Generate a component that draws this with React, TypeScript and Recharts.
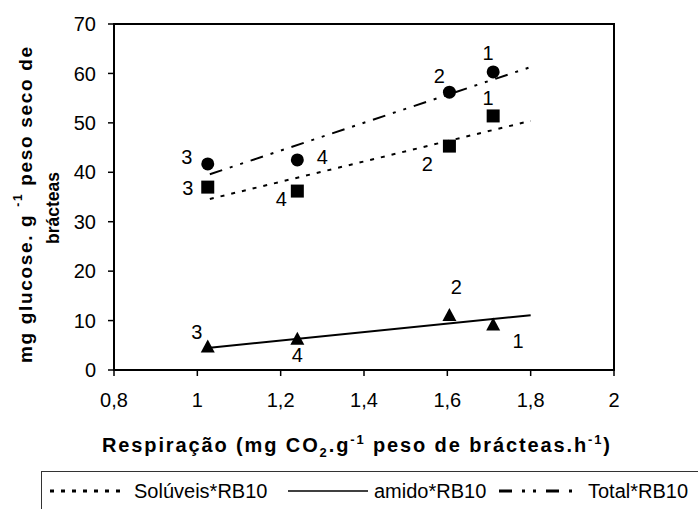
import React from "react";
import { ComposedChart, XAxis, YAxis, Scatter, Line, ReferenceArea } from "recharts";

// respiração (mg CO2 g-1 h-1) of the four samples, in plotting order
const respiration = [1.025, 1.24, 1.605, 1.71];
const pointNames = ["3", "4", "2", "1"];

const totalValues = [41.7, 42.5, 56.2, 60.3];
const soluveisValues = [37.0, 36.2, 45.3, 51.4];
const amidoValues = [4.55, 6.1, 10.9, 9.0];

// linear trend lines (start / end)
const trendX = [1.03, 1.8];
const totalTrend = [39.6, 61.3];
const soluveisTrend = [34.6, 50.4];
const amidoTrend = [4.5, 11.1];

const xTicks = [0.8, 1, 1.2, 1.4, 1.6, 1.8, 2];
const yTicks = [0, 10, 20, 30, 40, 50, 60, 70];

const FONT = "'Liberation Sans', Arial, sans-serif";

const points = (vals: number[]) =>
  respiration.map((x, i) => ({ x, y: vals[i], n: pointNames[i] }));
const trend = (vals: number[]) => trendX.map((x, i) => ({ x, y: vals[i] }));

const labelOffset: Record<string, Record<string, [number, number]>> = {
  circle: { "3": [-21, -7], "4": [25, -3], "2": [-10, -16], "1": [-5, -19] },
  square: { "3": [-20, 1], "4": [-16, 8], "2": [-22, 18], "1": [-5, -18] },
  triangle: { "3": [-11, -16], "4": [0, 15], "2": [7, -29], "1": [25, 15] },
};

const marker = (kind: string) => (props: any) => {
  const { cx, cy, payload } = props;
  const [dx, dy] = labelOffset[kind][payload.n];
  let mark;
  if (kind === "circle") mark = <circle cx={cx} cy={cy} r={6.5} fill="#000" />;
  else if (kind === "square")
    mark = <rect x={cx - 6.5} y={cy - 6.5} width={13} height={13} fill="#000" />;
  else
    mark = (
      <polygon
        points={`${cx},${cy - 8} ${cx + 7},${cy + 5} ${cx - 7},${cy + 5}`}
        fill="#000"
      />
    );
  return (
    <g>
      {mark}
      <text
        x={cx + dx}
        y={cy + dy}
        textAnchor="middle"
        dominantBaseline="central"
        fontSize={20}
        fontFamily={FONT}
        fill="#000"
      >
        {payload.n}
      </text>
    </g>
  );
};

const XTitle = () => (
  <text
    x={102}
    y={452}
    textLength={508}
    lengthAdjust="spacing"
    fontSize={20}
    fontWeight="bold"
    fontFamily={FONT}
    fill="#000"
  >
    Respiração (mg CO
    <tspan dy={5} fontSize={13}>2</tspan>
    <tspan dy={-5}>.g</tspan>
    <tspan dy={-8} fontSize={13}>-1</tspan>
    <tspan dy={8}> peso de brácteas.h</tspan>
    <tspan dy={-8} fontSize={13}>-1</tspan>
    <tspan dy={8}>)</tspan>
  </text>
);

const YTitle = () => (
  <g fontWeight="bold" fontFamily={FONT} fill="#000">
    <text
      x={-363}
      y={25}
      transform="rotate(-90)"
      fontSize={19}
      textLength={316}
      lengthAdjust="spacing"
      dominantBaseline="central"
    >
      mg glucose. g <tspan dy={-7} fontSize={12}>-1</tspan>
      <tspan dy={7}> peso seco de</tspan>
    </text>
    <text
      x={-208}
      y={53}
      transform="rotate(-90)"
      fontSize={17.5}
      textAnchor="middle"
      dominantBaseline="central"
    >
      brácteas
    </text>
  </g>
);

function LegendBox() {
  return (
    <div
      style={{
        position: "absolute",
        left: 41,
        top: 471,
        width: 700,
        height: 60,
        border: "1px solid #333",
        boxSizing: "border-box",
      }}
    >
      <svg width={700} height={40} style={{ display: "block" }}>
        <g fontSize={20} fontFamily={FONT} fill="#000">
          <line x1={8} y1={19} x2={82} y2={19} stroke="#000" strokeWidth={3} strokeDasharray="4 7" />
          <text x={92} y={19} dominantBaseline="central">Solúveis*RB10</text>
          <line x1={246} y1={19} x2={326} y2={19} stroke="#000" strokeWidth={1.5} />
          <text x={332} y={19} dominantBaseline="central">amido*RB10</text>
          <line x1={457} y1={19} x2={530} y2={19} stroke="#000" strokeWidth={3} strokeDasharray="13 10 3 8 3 10" />
          <text x={546} y={19} dominantBaseline="central">Total*RB10</text>
        </g>
      </svg>
    </div>
  );
}

export default function App() {
  return (
    <div style={{ position: "absolute", left: 0, top: 0, width: 698, height: 509, overflow: "hidden", background: "#fff" }}>
      <ComposedChart width={698} height={509} margin={{ top: 24, right: 84, left: 54, bottom: 99 }}>
        <XAxis
          type="number"
          dataKey="x"
          domain={[0.8, 2]}
          ticks={xTicks}
          interval={0}
          height={40}
          tickSize={6}
          tickMargin={17}
          tickFormatter={(v) => String(v).replace(".", ",")}
          axisLine={{ stroke: "#000", strokeWidth: 2 }}
          tickLine={{ stroke: "#000", strokeWidth: 1.5 }}
          tick={{ fill: "#000", fontSize: 20, fontFamily: FONT }}
          label={<XTitle />}
        />
        <YAxis
          type="number"
          domain={[0, 70]}
          ticks={yTicks}
          interval={0}
          width={60}
          tickSize={6}
          tickMargin={12}
          axisLine={{ stroke: "#000", strokeWidth: 2 }}
          tickLine={{ stroke: "#000", strokeWidth: 1.5 }}
          tick={{ fill: "#000", fontSize: 20, fontFamily: FONT }}
          label={<YTitle />}
        />
        <ReferenceArea x1={0.8} x2={2} y1={0} y2={70} fill="none" stroke="#000" strokeWidth={2} />
        <Line data={trend(soluveisTrend)} dataKey="y" stroke="#000" strokeWidth={2} strokeDasharray="4 7" dot={false} isAnimationActive={false} />
        <Line data={trend(amidoTrend)} dataKey="y" stroke="#000" strokeWidth={2} dot={false} isAnimationActive={false} />
        <Line data={trend(totalTrend)} dataKey="y" stroke="#000" strokeWidth={2} strokeDasharray="13 8 3 8 3 8" dot={false} isAnimationActive={false} />
        <Scatter data={points(soluveisValues)} dataKey="y" shape={marker("square")} isAnimationActive={false} />
        <Scatter data={points(amidoValues)} dataKey="y" shape={marker("triangle")} isAnimationActive={false} />
        <Scatter data={points(totalValues)} dataKey="y" shape={marker("circle")} isAnimationActive={false} />
      </ComposedChart>
      <LegendBox />
    </div>
  );
}
